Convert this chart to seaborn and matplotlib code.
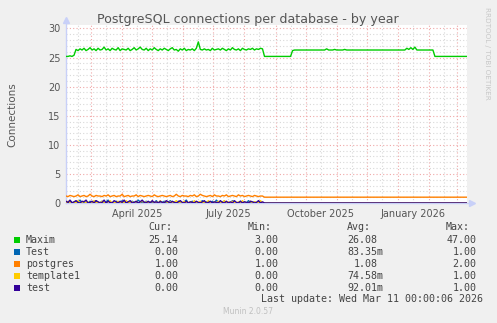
import numpy as np
import pandas as pd
import seaborn as sns
import matplotlib.pyplot as plt
import matplotlib.dates as mdates
from matplotlib.patches import Rectangle

# one sample every 2 days, 2025-02-04 .. 2026-03-11
start = "2025-02-04"
end = "2026-03-11"

maxim_early = [25.2, 25.2, 25.3, 25.2, 25.4, 26.4, 26.2, 26.5, 26.3, 26.6,
               26.2, 26.4, 26.7, 26.3, 26.5, 26.2, 26.6, 26.3, 26.4, 26.8,
               26.3, 26.5, 26.2, 26.6, 26.4, 26.3, 26.7, 26.2, 26.5, 26.4,
               26.3, 26.6, 26.2, 26.4, 26.7, 26.3, 26.5, 26.8, 26.4, 26.3,
               26.6, 26.2, 26.5, 26.3, 26.7, 26.4, 26.2, 26.5, 26.3, 26.6,
               26.4, 26.2, 26.5, 26.7, 26.3, 26.4, 26.1, 26.5, 26.3, 26.6,
               26.2, 26.4, 26.3, 26.5, 26.2, 26.6, 27.7, 26.4, 26.3, 26.5,
               26.3, 26.4, 26.2, 26.6, 26.3, 26.4, 26.5, 26.3, 26.6, 26.4,
               26.2, 26.5, 26.3, 26.7, 26.4, 26.3, 26.5, 26.2, 26.6, 26.4,
               26.3, 26.5, 26.4, 26.6, 26.3, 26.5, 26.4, 26.6, 26.5]
maxim_late = ([25.2] * 14
              + [26.2, 26.3, 26.3, 26.3, 26.3, 26.3, 26.3, 26.3, 26.3, 26.3,
                 26.3, 26.3, 26.3, 26.3, 26.3, 26.3, 26.3, 26.5, 26.3, 26.3,
                 26.3, 26.4, 26.3, 26.3, 26.3, 26.3, 26.4, 26.3, 26.3, 26.3,
                 26.3, 26.3, 26.3, 26.3, 26.3, 26.3, 26.3, 26.3, 26.3, 26.3,
                 26.3, 26.3, 26.3, 26.3, 26.3, 26.3, 26.3, 26.3, 26.3, 26.3,
                 26.3, 26.3, 26.3, 26.3, 26.3, 26.3, 26.3, 26.6, 26.4, 26.7,
                 26.4, 26.8, 26.3, 26.3, 26.3, 26.3, 26.3, 26.3, 26.3, 26.3,
                 26.3]
              + [25.2] * 17)

Test_early = [0.2, 0.0, 0.4, 0.1, 0.0, 0.3, 0.1, 0.5, 0.0, 0.2,
              0.1, 0.0, 0.3, 0.0, 0.2, 0.4, 0.0, 0.1, 0.3, 0.0,
              0.2, 0.5, 0.0, 0.1, 0.0, 0.3, 0.2, 0.0, 0.4, 0.1,
              0.0, 0.2, 0.0, 0.3, 0.1, 0.0, 0.5, 0.2, 0.0, 0.1,
              0.3, 0.0, 0.2, 0.1, 0.0, 0.4, 0.0, 0.2, 0.1, 0.3,
              0.0, 0.1, 0.4, 0.0, 0.2, 0.0, 0.3, 0.1, 0.0, 0.2,
              0.5, 0.0, 0.1, 0.3, 0.0, 0.2, 0.0, 0.1, 0.4, 0.0,
              0.2, 0.1, 0.0, 0.3, 0.0, 0.5, 0.1, 0.0, 0.2, 0.3,
              0.0, 0.1, 0.0, 0.4, 0.2, 0.0, 0.1, 0.3, 0.0, 0.2,
              0.0, 0.4, 0.1, 0.0, 0.2, 0.0, 0.3, 0.1, 0.0]
postgres_early = [1.2, 1.1, 1.3, 1.2, 1.1, 1.2, 1.4, 1.1, 1.2, 1.3,
                  1.1, 1.2, 1.5, 1.2, 1.1, 1.3, 1.2, 1.2, 1.1, 1.3,
                  1.2, 1.4, 1.1, 1.2, 1.3, 1.1, 1.2, 1.2, 1.5, 1.1,
                  1.2, 1.3, 1.1, 1.2, 1.2, 1.4, 1.1, 1.3, 1.2, 1.1,
                  1.2, 1.3, 1.2, 1.1, 1.4, 1.2, 1.1, 1.2, 1.3, 1.2,
                  1.1, 1.2, 1.3, 1.1, 1.2, 1.5, 1.2, 1.1, 1.3, 1.2,
                  1.2, 1.1, 1.3, 1.2, 1.4, 1.1, 1.2, 1.5, 1.3, 1.2,
                  1.1, 1.2, 1.3, 1.1, 1.4, 1.2, 1.2, 1.1, 1.3, 1.2,
                  1.4, 1.1, 1.2, 1.3, 1.2, 1.1, 1.4, 1.2, 1.3, 1.1,
                  1.2, 1.3, 1.2, 1.1, 1.3, 1.2, 1.1, 1.2, 1.2]
template1_early = [0.0, 0.3, 0.1, 0.0, 0.2, 0.0, 0.4, 0.0, 0.1, 0.3,
                   0.0, 0.2, 0.0, 0.1, 0.4, 0.0, 0.2, 0.0, 0.3, 0.1,
                   0.0, 0.2, 0.4, 0.0, 0.1, 0.0, 0.3, 0.0, 0.2, 0.0,
                   0.4, 0.1, 0.0, 0.2, 0.0, 0.3, 0.0, 0.1, 0.4, 0.0,
                   0.2, 0.0, 0.1, 0.3, 0.0, 0.2, 0.0, 0.4, 0.0, 0.1,
                   0.3, 0.0, 0.2, 0.0, 0.1, 0.4, 0.0, 0.2, 0.0, 0.3,
                   0.0, 0.1, 0.2, 0.0, 0.4, 0.0, 0.1, 0.3, 0.0, 0.2,
                   0.0, 0.4, 0.1, 0.0, 0.2, 0.0, 0.3, 0.0, 0.1, 0.4,
                   0.0, 0.2, 0.0, 0.3, 0.1, 0.0, 0.2, 0.0, 0.4, 0.0,
                   0.1, 0.0, 0.3, 0.0, 0.2, 0.1, 0.0, 0.4, 0.0]
test_early = [0.3, 0.1, 0.5, 0.0, 0.2, 0.4, 0.1, 0.0, 0.3, 0.2,
              0.5, 0.0, 0.1, 0.3, 0.0, 0.4, 0.2, 0.0, 0.1, 0.5,
              0.0, 0.3, 0.1, 0.0, 0.4, 0.2, 0.0, 0.3, 0.1, 0.5,
              0.0, 0.2, 0.4, 0.0, 0.1, 0.3, 0.0, 0.2, 0.5, 0.1,
              0.0, 0.3, 0.0, 0.4, 0.1, 0.2, 0.0, 0.3, 0.1, 0.0,
              0.4, 0.2, 0.0, 0.3, 0.1, 0.0, 0.2, 0.4, 0.1, 0.0,
              0.3, 0.0, 0.2, 0.1, 0.0, 0.3, 0.1, 0.0, 0.2, 0.4,
              0.0, 0.1, 0.3, 0.0, 0.2, 0.1, 0.0, 0.4, 0.1, 0.0,
              0.3, 0.0, 0.2, 0.0, 0.4, 0.1, 0.0, 0.3, 0.0, 0.2,
              0.1, 0.0, 0.3, 0.2, 0.0, 0.1, 0.4, 0.0, 0.2]

series_names = ["Maxim", "Test", "postgres", "template1", "test"]
series_colors = ["#00CC00", "#0066B3", "#FF8000", "#FFCC00", "#330099"]

cur_vals = [25.14, 0.00, 1.00, 0.00, 0.00]
min_vals = [3.00, 0.00, 1.00, 0.00, 0.00]
avg_vals = [26.08, 83.35, 1.08, 74.58, 92.01]
avg_units = ["", "m", "", "m", "m"]
max_vals = [47.00, 1.00, 2.00, 1.00, 1.00]

dates = pd.date_range(start, periods=201, freq="2D")
values = {
    "Maxim": maxim_early + maxim_late,
    "Test": Test_early + [0.0] * 102,
    "postgres": postgres_early + [1.0] * 102,
    "template1": template1_early + [0.0] * 102,
    "test": test_early + [0.0] * 102,
}
df = pd.DataFrame(values)
df["date"] = dates
long = df.melt(id_vars="date", var_name="series", value_name="conn")

W, H = 497, 323
fig = plt.figure(figsize=(W / 100, H / 100), dpi=100, facecolor="#F0F0F0")
ax = fig.add_axes([66 / W, 1 - 203 / H, 401 / W, 178 / H])
ax.set_facecolor("white")

sns.lineplot(data=long, x="date", y="conn", hue="series", hue_order=series_names,
             palette=series_colors, estimator=None, legend=False, linewidth=1.0, ax=ax)

ax.set_xlim(pd.Timestamp(start), pd.Timestamp(end))
ax.set_ylim(0, 30.6)

# grid like rrdtool: red major, grey minor, dotted
ax.yaxis.set_major_locator(plt.MultipleLocator(5))
ax.yaxis.set_minor_locator(plt.MultipleLocator(1))
ax.xaxis.set_major_locator(mdates.MonthLocator(bymonthday=1))
ax.xaxis.set_minor_locator(mdates.MonthLocator(bymonthday=16))
ax.xaxis.set_major_formatter(plt.NullFormatter())
ax.xaxis.set_minor_formatter(plt.FuncFormatter(
    lambda v, p: mdates.num2date(v).strftime("%B %Y") if mdates.num2date(v).month in (1, 4, 7, 10) else ""))
ax.grid(which="major", color="#F0A8A8", linestyle=(0, (1, 2)), linewidth=0.8)
ax.grid(which="minor", color="#D8D8D8", linestyle=(0, (1, 2)), linewidth=0.8)
ax.set_axisbelow(True)
ax.tick_params(which="both", length=0, labelsize=7, colors="#555555", pad=4)
ax.set_xlabel("")
ax.set_ylabel("")
for s in ax.spines.values():
    s.set_visible(False)

# axis lines with arrows
axis_col = "#C8D0F8"
ax.plot([0, 0], [0, 1.02], transform=ax.transAxes, color=axis_col, lw=1, clip_on=False, zorder=1)
ax.plot([0], [1.03], transform=ax.transAxes, marker="^", ms=4, color=axis_col, clip_on=False)
ax.plot([0, 1.005], [0, 0], transform=ax.transAxes, color=axis_col, lw=1, clip_on=False, zorder=1)
ax.plot([1.012], [0], transform=ax.transAxes, marker=">", ms=4, color=axis_col, clip_on=False)

def fx(x):
    return x / W

def fy(y):
    return 1 - y / H

fig.text(fx(248), fy(19), "PostgreSQL connections per database - by year",
         ha="center", va="center", fontsize=9.1, color="#555555")
fig.text(fx(12), fy(115), "Connections", rotation=90, ha="center", va="center",
         fontsize=7.5, color="#555555")
fig.text(fx(487), fy(53), "RRDTOOL / TOBI OETIKER", rotation=270, ha="center", va="center",
         fontsize=5.2, color="#C8C8C8")

mono = dict(family="DejaVu Sans Mono", fontsize=7.2, color="#444444", va="center")
for x, h in zip([172, 272, 371, 470], ["Cur:", "Min:", "Avg:", "Max:"]):
    fig.text(fx(x), fy(227), h, ha="right", **mono)

for i, name in enumerate(series_names):
    y = 240 + i * 12
    fig.patches.append(Rectangle((fx(14), fy(y + 3)), 6 / W, 6 / H, transform=fig.transFigure,
                                 facecolor=series_colors[i], edgecolor="none"))
    fig.text(fx(26), fy(y), name, ha="left", **mono)
    fig.text(fx(178.5), fy(y), f"{cur_vals[i]:.2f}", ha="right", **mono)
    fig.text(fx(278.5), fy(y), f"{min_vals[i]:.2f}", ha="right", **mono)
    xr = 383.5 if avg_units[i] else 377.5
    fig.text(fx(xr), fy(y), f"{avg_vals[i]:.2f}{avg_units[i]}", ha="right", **mono)
    fig.text(fx(476.5), fy(y), f"{max_vals[i]:.2f}", ha="right", **mono)

fig.text(fx(483), fy(299), "Last update: Wed Mar 11 00:00:06 2026", ha="right", **mono)
fig.text(fx(248), fy(312), "Munin 2.0.57", ha="center", va="center", fontsize=5.5, color="#C0C0C0")

fig.savefig("out.png", dpi=100, facecolor=fig.get_facecolor())
